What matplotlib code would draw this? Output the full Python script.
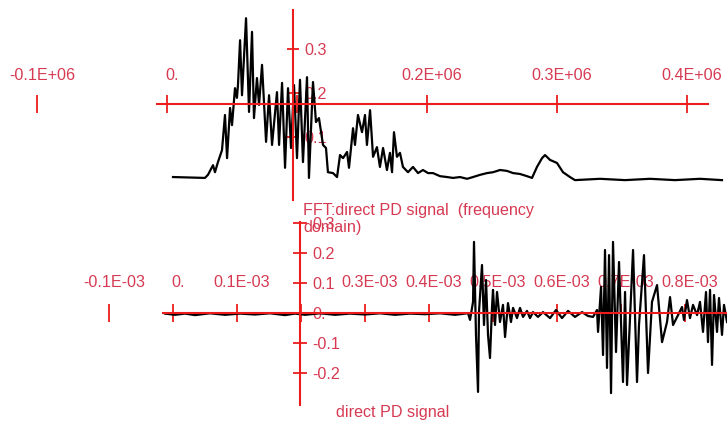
import matplotlib
matplotlib.use('Agg')
import matplotlib.pyplot as plt
from matplotlib.transforms import ScaledTranslation

plt.rcParams['font.family'] = ['Liberation Sans', 'DejaVu Sans']

# FFT of the PD signal: frequency in kHz, amplitude
fft_freq_khz = [4.6, 29.2, 31.5, 35.4, 36.9, 39.2, 42.3, 44.6, 46.2, 48.5, 50.0, 52.3, 53.8, 54.6,
                56.2, 57.7, 60.8, 63.1, 65.4, 66.9, 69.2, 70.8, 73.1, 76.2, 78.5, 80.8, 84.6, 86.2,
                88.5, 90.8, 93.1, 95.4, 97.7, 100.0, 102.3, 104.6, 107.7, 109.2, 112.3, 114.6, 116.9,
                120.0, 122.3, 123.8, 127.7, 130.8, 133.1, 135.4, 138.5, 140.0, 143.1, 144.6, 146.9,
                150.0, 152.3, 153.8, 156.2, 158.5, 161.5, 163.8, 166.2, 169.2, 171.5, 173.1, 174.6,
                176.9, 179.2, 181.5, 185.4, 189.2, 193.1, 196.9, 200.8, 204.6, 210.0, 215.4, 220.0,
                225.4, 230.8, 235.4, 240.8, 246.2, 250.8, 256.2, 261.5, 266.2, 271.5, 276.9, 280.8,
                284.6, 288.5, 290.8, 294.6, 300.0, 304.6, 310.0, 313.8, 333.1, 352.3, 371.5, 390.8,
                410.0, 426.9]
fft_amp = [0.009, 0.007, 0.014, 0.036, 0.020, 0.043, 0.070, 0.150, 0.052, 0.166, 0.127, 0.211, 0.189,
           0.218, 0.320, 0.195, 0.370, 0.157, 0.339, 0.143, 0.234, 0.173, 0.264, 0.089, 0.195, 0.082,
           0.202, 0.082, 0.223, 0.030, 0.211, 0.075, 0.218, 0.052, 0.230, 0.043, 0.236, 0.007, 0.225,
           0.134, 0.143, 0.082, 0.075, 0.020, 0.018, 0.009, 0.059, 0.052, 0.066, 0.030, 0.120, 0.082,
           0.150, 0.111, 0.150, 0.082, 0.161, 0.055, 0.077, 0.032, 0.075, 0.025, 0.064, 0.020, 0.111,
           0.055, 0.064, 0.032, 0.020, 0.032, 0.018, 0.025, 0.018, 0.018, 0.011, 0.009, 0.007, 0.009,
           0.005, 0.009, 0.014, 0.018, 0.020, 0.025, 0.023, 0.018, 0.016, 0.011, 0.007, 0.032, 0.052,
           0.059, 0.048, 0.041, 0.020, 0.009, 0.002, 0.005, 0.002, 0.005, 0.002, 0.005, 0.002]

# time signal: time in microseconds, amplitude
pd_time_us = [-12.5, 3.1, 18.8, 34.4, 57.8, 81.3, 104.7, 128.1, 151.6, 175.0, 190.6, 206.3, 229.7,
              253.1, 276.6, 300.0, 323.4, 346.9, 370.3, 393.8, 417.2, 440.6, 456.3, 460.9, 464.1,
              468.8, 470.3, 473.4, 476.6, 478.1, 482.8, 485.9, 489.1, 492.2, 495.3, 498.4, 500.0,
              503.1, 506.3, 510.9, 515.6, 518.8, 523.4, 528.1, 531.3, 537.5, 542.2, 546.9, 553.1,
              557.8, 562.5, 570.3, 578.1, 589.1, 598.4, 607.8, 617.2, 628.1, 639.1, 648.4, 656.3,
              662.5, 664.1, 668.8, 671.9, 675.0, 678.1, 681.3, 684.4, 687.5, 692.2, 696.9, 703.1,
              706.3, 709.4, 718.8, 725.0, 728.1, 735.9, 742.2, 748.4, 756.3, 764.1, 771.9, 776.6,
              781.3, 789.1, 795.3, 798.4, 803.1, 807.8, 812.5, 818.8, 823.4, 828.1, 832.8, 835.9,
              839.1, 842.2, 845.3, 850.0, 853.1, 857.8, 860.9, 865.6]
pd_amp = [-0.002, -0.006, -0.002, -0.007, -0.001, -0.006, -0.002, -0.005, -0.001, -0.007, -0.002,
          -0.006, -0.001, -0.006, -0.002, -0.005, -0.001, -0.006, -0.002, -0.004, -0.001, -0.006,
          -0.002, 0.0, -0.023,
          0.037, 0.237, -0.073, -0.263, 0.003, 0.160, -0.040, 0.110, -0.073, -0.150, 0.017, 0.077,
          -0.040, 0.070, -0.030, 0.027, -0.080, 0.033, -0.030, 0.017, -0.017, 0.017, -0.013, 0.007,
          -0.017, 0.003, -0.013, 0.003, -0.017, 0.010, -0.017, 0.007, -0.013, 0.003, -0.010, -0.013,
          0.010, -0.063, 0.087, -0.140, 0.210, -0.183, 0.193, -0.267, 0.237, -0.130, 0.170, -0.230,
          0.070, -0.240, 0.210, -0.230, -0.040, 0.193, -0.200, 0.037, 0.093, -0.097, -0.030, 0.053,
          -0.040, -0.007, 0.020, -0.023, 0.043, -0.017, 0.027, -0.007, 0.037, -0.063, 0.070, -0.097,
          0.077, -0.173, 0.060, -0.063, 0.050, -0.073, 0.027, -0.030]

fft_xticks_khz = [-100, 0, 100, 200, 300, 400]
fft_xlabels = ['-0.1E+06', '0.', '', '0.2E+06', '0.3E+06', '0.4E+06']
fft_yticks = [0.1, 0.2, 0.3]
fft_ylabels = ['0.1', '0.2', '0.3']

pd_xticks_us = [-100, 0, 100, 200, 300, 400, 500, 600, 700, 800]
pd_xlabels = ['-0.1E-03', '0.', '0.1E-03', '', '0.3E-03', '0.4E-03', '0.5E-03',
              '0.6E-03', '0.7E-03', '0.8E-03']
pd_yticks = [-0.2, -0.1, 0.0, 0.1, 0.2, 0.3]
pd_ylabels = ['-0.2', '-0.1', '0.', '0.1', '0.2', '0.3']

AXIS_RED = '#ec1c1c'
TEXT_RED = '#d63a52'
FS = 11.6


def style_axes(ax, x_cross, y_cross, xbounds, ybounds, xlen, ylen, xpad, ypad):
    for side in ['left', 'bottom']:
        ax.spines[side].set_visible(False)
    ax.spines['top'].set_position(('data', y_cross))
    ax.spines['right'].set_position(('data', x_cross))
    ax.spines['top'].set_bounds(*xbounds)
    ax.spines['right'].set_bounds(*ybounds)
    for side in ['top', 'right']:
        ax.spines[side].set_color(AXIS_RED)
        ax.spines[side].set_linewidth(1.5)
        ax.spines[side].set_zorder(3)
    ax.tick_params(axis='x', top=True, bottom=False, labeltop=True, labelbottom=False,
                   direction='inout', length=xlen, width=1.3, color=AXIS_RED,
                   labelcolor=TEXT_RED, labelsize=FS, pad=xpad)
    ax.tick_params(axis='y', right=True, left=False, labelright=True, labelleft=False,
                   direction='inout', length=ylen, width=1.3, color=AXIS_RED,
                   labelcolor=TEXT_RED, labelsize=FS, pad=ypad)
    # labels sit a little right of their ticks in the original
    shift = ScaledTranslation(5 / 100, 0, ax.figure.dpi_scale_trans)
    for lbl in ax.get_xticklabels(which='both'):
        lbl.set_transform(lbl.get_transform() + shift)
    ax.xaxis.set_zorder(1)
    ax.yaxis.set_zorder(1)
    ax.patch.set_visible(False)


fig = plt.figure(figsize=(7.27, 4.25), dpi=100)

# top panel: spectrum
ax1 = fig.add_axes([0, 215 / 425, 1, 210 / 425])
ax1.plot([f * 1e3 for f in fft_freq_khz], fft_amp, color='black', lw=1.6, zorder=2)
ax1.set_xlim(-128.46e3, 430.77e3)
ax1.set_ylim(-0.0659, 0.4114)
ax1.set_xticks([f * 1e3 for f in fft_xticks_khz], fft_xlabels)
ax1.set_yticks(fft_yticks, fft_ylabels)
style_axes(ax1, 96.9e3, 0.175, (-7.7e3, 416e3), (-0.043, 0.389), 13, 8, 8.3, 4.0)

# bottom panel: time signal
ax2 = fig.add_axes([0, 0, 1, 215 / 425])
ax2.plot([t * 1e-6 for t in pd_time_us], pd_amp, color='black', lw=1.6, zorder=2)
ax2.set_xlim(-270.3e-6, 865.6e-6)
ax2.set_ylim(-0.3733, 0.3433)
ax2.set_xticks([t * 1e-6 for t in pd_xticks_us], pd_xlabels)
ax2.set_yticks(pd_yticks, pd_ylabels)
style_axes(ax2, 198.4e-6, 0.0, (-15.6e-6, 870e-6), (-0.307, 0.303), 13, 10, 10.4, 3.6)

fig.text(303 / 727, 1 - 203 / 425, 'FFT:direct PD signal  (frequency\ndomain)',
         color=TEXT_RED, fontsize=FS, ha='left', va='top', linespacing=1.2)
fig.text(336 / 727, 12 / 425, 'direct PD signal', color=TEXT_RED, fontsize=FS,
         ha='left', va='center')

fig.savefig('out.png', dpi=100)
